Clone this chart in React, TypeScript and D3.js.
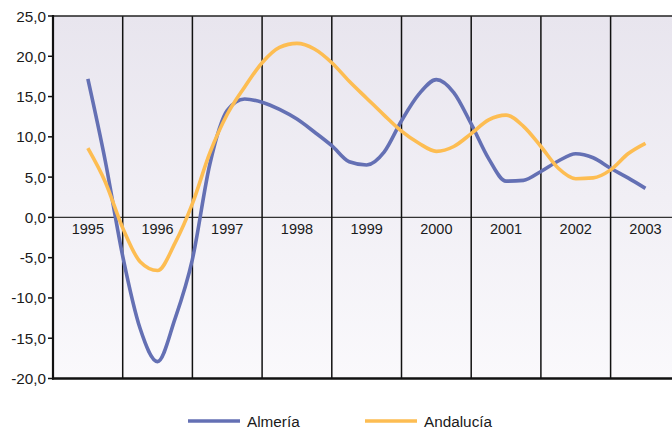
import React from "react";
import * as d3 from "d3";

const years = ["1995", "1996", "1997", "1998", "1999", "2000", "2001", "2002", "2003"];
const yTicks = [-20, -15, -10, -5, 0, 5, 10, 15, 20, 25];
// Quarterly values, starting at mid-1995 category
const almeria = [17.2, 7.0, -4.8, -13.8, -17.9, -12.6, -5.2, 6.6, 13.3, 14.7, 14.3, 13.4, 12.2, 10.6, 8.9, 6.9, 6.5, 8.1, 12.0, 15.3, 17.1, 15.5, 11.6, 7.3, 4.5, 4.6, 5.7, 7.0, 7.9, 7.4, 6.1, 4.9, 3.6];
const andalucia = [8.6, 4.4, -1.3, -5.5, -6.6, -3.2, 1.7, 8.0, 12.8, 16.2, 19.2, 21.1, 21.6, 20.9, 19.2, 16.9, 14.8, 12.7, 10.7, 9.2, 8.2, 8.8, 10.4, 12.1, 12.7, 11.3, 8.8, 6.1, 4.8, 4.9, 5.9, 7.9, 9.2];
const seriesNames = ["Almería", "Andalucía"];
const seriesColors = ["#6470b4", "#fdbd52"];

export default function App() {
  const W = 672, H = 428;
  const left = 53, top = 16, bottom = 378.5;
  const bw = 69.7;
  const right = left + bw * years.length;
  const band = d3.scaleBand().domain(years).range([left, right]);
  const xq = d3.scaleLinear().domain([0, years.length * 4]).range([left, right]);
  const y = d3.scaleLinear().domain([-20, 25]).range([bottom, top]);
  const line = d3
    .line<number>()
    .x((_, i) => xq(2 + i))
    .y((d) => y(d))
    .curve(d3.curveMonotoneX);
  const font = "Helvetica, Arial, 'Liberation Sans', sans-serif";
  const bounds = years.slice(1).map((yr) => band(yr)!);
  return (
    <svg width={W} height={H} style={{ position: "absolute", left: 0, top: 0 }} fontFamily={font}>
      <defs>
        <linearGradient id="bg" x1="0" y1="0" x2="0" y2="1">
          <stop offset="0" stopColor="#e8e5ee" />
          <stop offset="1" stopColor="#faf9fc" />
        </linearGradient>
      </defs>
      <rect x={left} y={top} width={W - left} height={bottom - top} fill="url(#bg)" />
      <line x1={left} x2={W} y1={y(0)} y2={y(0)} stroke="#333" strokeWidth={1.2} />
      {bounds.map((bx, i) => (
        <line key={i} x1={bx} x2={bx} y1={top} y2={bottom} stroke="#111" strokeWidth={1.5} />
      ))}
      <line x1={left} x2={W} y1={top} y2={top} stroke="#222" strokeWidth={1.5} />
      {years.map((yr) => (
        <text key={yr} x={band(yr)! + bw / 2} y={y(0) + 17} textAnchor="middle" fontSize={14.5} fill="#1a1a1a">
          {yr}
        </text>
      ))}
      {[almeria, andalucia].map((s, k) => (
        <path key={k} d={line(s)!} fill="none" stroke={seriesColors[k]} strokeWidth={3.6} strokeLinejoin="round" strokeLinecap="butt" />
      ))}
      <line x1={left} x2={left} y1={top - 1} y2={bottom + 1} stroke="#111" strokeWidth={2.2} />
      <line x1={left - 1} x2={W} y1={bottom} y2={bottom} stroke="#111" strokeWidth={2.4} />
      {yTicks.map((t) => (
        <g key={t}>
          <line x1={left - 5} x2={left} y1={y(t)} y2={y(t)} stroke="#111" strokeWidth={1.5} />
          <text x={left - 7} y={y(t) + 5.5} textAnchor="end" fontSize={15.3} fill="#1a1a1a">
            {t.toFixed(1).replace(".", ",")}
          </text>
        </g>
      ))}
      {seriesNames.map((n, k) => {
        const lx = k === 0 ? 188 : 365;
        return (
          <g key={n}>
            <line x1={lx} x2={lx + 52} y1={421} y2={421} stroke={seriesColors[k]} strokeWidth={3.6} />
            <text x={lx + 59} y={426.5} fontSize={15.3} fill="#1a1a1a">
              {n}
            </text>
          </g>
        );
      })}
    </svg>
  );
}
